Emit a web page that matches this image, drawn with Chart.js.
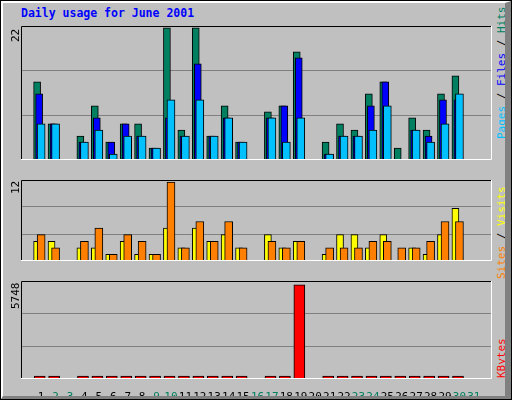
<!DOCTYPE html>
<html>
<head>
<meta charset="utf-8">
<script src="https://cdn.jsdelivr.net/npm/chart.js@4/dist/chart.umd.min.js"></script>
<style>
    body { margin: 0; background: #fff; }
    #frame {
        position: absolute; left: 0; top: 0; width: 510px; height: 398px;
        background: #c0c0c0; border: 1px solid #000;
        font-family: 'DejaVu Sans Mono', monospace;
    }
    #frame::after {
        content: ''; position: absolute; left: 0; top: 0; right: 0; bottom: 0;
        border-top: 2px solid #fff; border-left: 2px solid #fff;
        border-right: 6px solid #808080; border-bottom: 3px solid #808080;
        pointer-events: none;
    }
    #title { position: absolute; left: 20px; top: 5px; color: #0000ff; font-weight: bold; font-size: 11.5px; }
    canvas { position: absolute; }
    .rot {
        position: absolute; white-space: nowrap; font-size: 11px;
        transform-origin: left top; transform: rotate(-90deg);
    }
</style>
</head>
<body>
<div id="frame">
    <div id="title">Daily usage for June 2001</div>
    <canvas id="top"></canvas>
    <canvas id="mid"></canvas>
    <canvas id="bot"></canvas>
    <div class="rot" style="left:8px;top:41px;">22</div>
    <div class="rot" style="left:8px;top:193px;">12</div>
    <div class="rot" style="left:8px;top:308px;">5748</div>
    <div class="rot" style="left:494px;top:138px;"><span style="color:#00c0ff">Pages</span> / <span style="color:#0000ff">Files</span> / <span style="color:#008060">Hits</span></div>
    <div class="rot" style="left:494px;top:278px;"><span style="color:#ff8000">Sites</span> / <span style="color:#ffff00">Visits</span></div>
    <div class="rot" style="left:494px;top:377px;"><span style="color:#ff0000">KBytes</span></div>
</div>
<script>
// values, one entry per day of June 2001
const days   = Array.from({length: 31}, (v, i) => i + 1);
const weekendDays = [2, 3, 9, 10, 16, 17, 23, 24, 30, 31];
const hits   = [13, 6, 0, 4, 9, 3, 6, 6, 2, 22, 5, 22, 4, 9, 3, 0, 8, 9, 18, 0, 3, 6, 5, 11, 13, 2, 7, 5, 11, 14, 0];
const files  = [11, 6, 0, 3, 7, 3, 6, 4, 2, 7, 4, 16, 4, 7, 3, 0, 7, 9, 17, 0, 1, 4, 4, 9, 13, 0, 5, 4, 10, 10, 0];
const pages  = [6, 6, 0, 3, 5, 1, 4, 4, 2, 10, 4, 10, 4, 7, 3, 0, 7, 3, 7, 0, 1, 4, 4, 5, 9, 0, 5, 3, 6, 11, 0];
const visits = [3, 3, 0, 2, 2, 1, 3, 1, 1, 5, 2, 5, 3, 4, 2, 0, 4, 2, 3, 0, 1, 4, 4, 2, 4, 0, 2, 1, 4, 8, 0];
const sites  = [4, 2, 0, 3, 5, 1, 4, 3, 1, 12, 2, 6, 3, 6, 2, 0, 3, 2, 3, 0, 2, 2, 2, 3, 3, 2, 2, 3, 6, 6, 0];
const kbytes = [5, 5, 0, 5, 5, 5, 5, 5, 5, 5, 5, 65, 5, 5, 5, 0, 5, 5, 5748, 0, 5, 5, 5, 5, 5, 5, 5, 5, 5, 40, 0];

const xMin = 0.13, xMax = 31.73;

const points = (values, shift) => days.map((d, i) => ({x: d + shift, y: values[i]})).filter(p => p.y > 0);

const bar = (label, values, shift, color, order, width) => ({
    label: label,
    data: points(values, shift),
    backgroundColor: color,
    borderColor: '#000',
    borderWidth: 1,
    borderSkipped: false,
    barThickness: width,
    minBarLength: 3,
    grouped: false,
    order: order
});

// black/white bevel around each panel
const bevel = {
    id: 'bevel',
    afterDraw: (chart) => {
        const a = chart.chartArea, c = chart.ctx;
        c.save();
        c.lineWidth = 1;
        c.strokeStyle = '#000';
        c.beginPath();
        c.moveTo(a.left + 0.5, a.bottom); c.lineTo(a.left + 0.5, a.top + 0.5); c.lineTo(a.right, a.top + 0.5);
        c.stroke();
        c.strokeStyle = '#fff';
        c.beginPath();
        c.moveTo(a.right - 0.5, a.top); c.lineTo(a.right - 0.5, a.bottom - 0.5); c.lineTo(a.left, a.bottom - 0.5);
        c.stroke();
        c.restore();
    }
};

const makeChart = (id, box, datasets, yMax, showX) => {
    const el = document.getElementById(id);
    el.style.left = box[0] + 'px';
    el.style.top = box[1] + 'px';
    el.width = box[2];
    el.height = box[3];
    el.style.width = box[2] + 'px';
    el.style.height = box[3] + 'px';
    return new Chart(el, {
        type: 'bar',
        data: { datasets: datasets },
        options: {
            responsive: false,
            maintainAspectRatio: false,
            animation: false,
            layout: { padding: 0 },
            plugins: { legend: { display: false }, tooltip: { enabled: false } },
            scales: {
                x: {
                    type: 'linear',
                    min: xMin,
                    max: xMax,
                    display: showX,
                    grid: { display: false },
                    border: { display: false },
                    afterBuildTicks: (s) => { s.ticks = days.map(d => ({value: d})); },
                    afterFit: (s) => { s.height = 20; },
                    ticks: {
                        autoSkip: false,
                        maxRotation: 0,
                        padding: 4,
                        font: { family: 'DejaVu Sans Mono', size: 11 },
                        color: (ctx) => weekendDays.includes(ctx.tick.value) ? '#00805c' : '#000',
                        callback: (v) => v
                    }
                },
                y: {
                    min: 0,
                    max: yMax,
                    afterBuildTicks: (s) => { s.ticks = [1, 2].map(k => ({value: yMax * k / 3})); },
                    afterFit: (s) => { s.width = 0; },
                    ticks: { display: false },
                    grid: { color: '#808080', drawTicks: false, lineWidth: 1 },
                    border: { display: false }
                }
            }
        },
        plugins: [bevel]
    });
};

makeChart('top', [20, 25, 471, 154], [
    bar('Hits', hits, -0.28, '#008060', 3, 7),
    bar('Files', files, -0.14, '#0000ff', 2, 7),
    bar('Pages', pages, 0, '#00c0ff', 1, 8)
], 22.3, false);

makeChart('mid', [20, 179, 471, 101], [
    bar('Visits', visits, -0.28, '#ffff00', 2, 7),
    bar('Sites', sites, 0, '#ff8000', 1, 8)
], 12.3, false);

makeChart('bot', [20, 280, 471, 118], [
    bar('KBytes', kbytes, -0.1, '#ff0000', 1, 11)
], 5748 * 1.04, true);
</script>
</body>
</html>
